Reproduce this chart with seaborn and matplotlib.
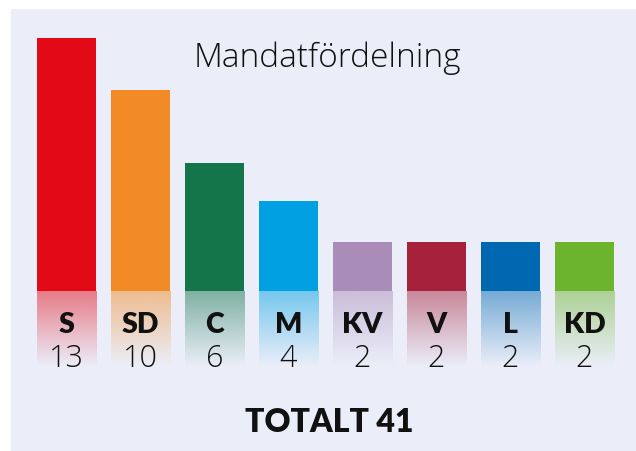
import numpy as np
import matplotlib
matplotlib.use("Agg")
import matplotlib.pyplot as plt
from matplotlib.patches import Rectangle
from matplotlib.colors import to_rgb
import seaborn as sns

# ---- data ----
parties = ["S", "SD", "C", "M", "KV", "V", "L", "KD"]
seats = [13, 10, 6, 4, 2, 2, 2, 2]
colors = ["#e20a16", "#f28b26", "#14744a", "#00a0e2", "#a98cb8", "#a6213b", "#0068b0", "#6db42e"]
title = "Mandatfördelning"
total_label = "TOTALT 41"

sns.set_theme(style="white")
plt.rcParams["font.family"] = ["Lato", "DejaVu Sans"]

W, H = 636, 452
fig = plt.figure(figsize=(W / 100, H / 100), dpi=100, facecolor="white")
BG = "#ebeef9"
fig.patches.append(Rectangle((11 / W, 0), 1 - 11 / W, 1 - 10 / H,
                             transform=fig.transFigure, facecolor=BG,
                             edgecolor="none", zorder=-5))

def px_axes(left, top, right, bottom):
    a = fig.add_axes([left / W, 1 - bottom / H, (right - left) / W, (bottom - top) / H])
    a.set_zorder(2)
    return a

# bars axis
ax = px_axes(29.5, 39, 621.5, 292)
ax.set_facecolor("none")
sns.barplot(x=parties, y=seats, hue=parties, palette=colors, legend=False,
            saturation=1, width=0.8, linewidth=0, edgecolor="none", ax=ax)
P = 0.88
fwd = lambda y: np.sign(y) * np.abs(y) ** P
inv = lambda y: np.sign(y) * np.abs(y) ** (1 / P)
ax.set_yscale("function", functions=(fwd, inv))
ax.set_ylim(0, max(seats))
ax.set_xlim(-0.5, len(parties) - 0.5)
ax.axis("off")

# label / gradient axis
ax2 = px_axes(29.5, 292, 621.5, 368)
ax2.set_facecolor("none")
n = 100
alpha = np.linspace(0.0, 0.5, n)[:, None]
for i, (p, s, c) in enumerate(zip(parties, seats, colors)):
    rgb = np.array(to_rgb(c))
    img = np.zeros((n, 1, 4))
    img[:, 0, :3] = rgb
    img[:, :, 3] = alpha
    ax2.imshow(img, extent=(i - 0.4, i + 0.4, 0, 1), origin="lower",
               aspect="auto", interpolation="bilinear", zorder=1)
    ax2.text(i, 0.46, p, ha="center", va="baseline", fontsize=20.5,
             fontweight="heavy", color="#111111", zorder=3)
    ax2.text(i, 0.013, str(s), ha="center", va="baseline", fontsize=22,
             family=["Open Sans", "DejaVu Sans"], fontweight="light",
             color="#111111", zorder=3)
ax2.set_xlim(-0.5, len(parties) - 0.5)
ax2.set_ylim(0, 1)
ax2.axis("off")

fig.text(327.5 / W, 1 - 67 / H, title, ha="center", va="baseline",
         fontsize=24, family=["Open Sans", "DejaVu Sans"], fontweight="light",
         color="#111111")
fig.text(329 / W, 1 - 432 / H, total_label, ha="center", va="baseline",
         fontsize=23, fontweight="heavy", color="#111111")

fig.savefig("out.png", dpi=100, facecolor="white")
